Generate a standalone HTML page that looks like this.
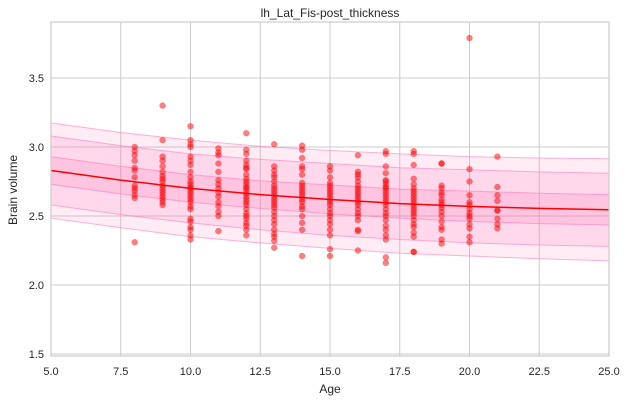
<!DOCTYPE html>
<html><head><meta charset="utf-8"><style>
body{margin:0;background:#fff;font-family:"Liberation Sans","DejaVu Sans",sans-serif}
svg text{font-family:"Liberation Sans","DejaVu Sans",sans-serif;fill:#262626}
</style></head><body>
<svg id="chart" width="628" height="402" xmlns="http://www.w3.org/2000/svg">
<rect x="51" y="22" width="558" height="334" fill="#fff"/>
<g id="grid"></g><g id="bands"></g><g id="pts"></g><g id="line"></g><g id="ticks"></g>
<rect x="51" y="22" width="558" height="334" fill="none" stroke="#ccc" stroke-width="1.2"/>
<text x="330" y="17" font-size="12" text-anchor="middle">lh_Lat_Fis-post_thickness</text>
<text x="330" y="393" font-size="12" text-anchor="middle">Age</text>
<text x="17" y="190" font-size="12" text-anchor="middle" transform="rotate(-90 17 190)">Brain volume</text>
</svg>
<script>
const xTicks=[5,7.5,10,12.5,15,17.5,20,22.5,25];
const xTickLabels=["5.0","7.5","10.0","12.5","15.0","17.5","20.0","22.5","25.0"];
const yTicks=[1.5,2.0,2.5,3.0,3.5];
const yTickLabels=["1.5","2.0","2.5","3.0","3.5"];
const curveAges=[5,7.5,10,12.5,15,17.5,20,22.5,25];
const curveMean=[2.83,2.76,2.70,2.655,2.62,2.59,2.57,2.555,2.545];
const innerWidth=[0.10,0.10,0.10,0.10,0.105,0.105,0.11,0.11,0.11];
const midWidth=[0.25,0.25,0.25,0.255,0.26,0.26,0.265,0.265,0.265];
const outerWidth=[0.345,0.345,0.35,0.35,0.355,0.36,0.36,0.365,0.37];
const ages=[8,9,10,11,12,13,14,15,16,17,18,19,20,21];
const values=[
[3.0,2.97,2.94,2.9,2.85,2.83,2.78,2.72,2.70,2.68,2.65,2.63,2.31],
[3.3,3.05,2.93,2.9,2.86,2.82,2.79,2.77,2.75,2.72,2.70,2.68,2.66,2.64,2.62,2.60,2.58],
[3.15,3.05,3.02,3.0,2.93,2.9,2.87,2.82,2.78,2.75,2.73,2.71,2.70,2.68,2.66,2.64,2.62,2.60,2.57,2.55,2.48,2.46,2.42,2.40,2.36,2.33],
[2.99,2.96,2.94,2.88,2.82,2.76,2.73,2.70,2.67,2.64,2.60,2.57,2.53,2.50,2.39],
[3.1,2.98,2.95,2.9,2.87,2.85,2.84,2.80,2.77,2.75,2.73,2.71,2.70,2.68,2.66,2.64,2.62,2.60,2.58,2.55,2.52,2.50,2.48,2.45,2.43,2.40,2.36],
[3.02,2.86,2.83,2.80,2.78,2.75,2.72,2.70,2.68,2.66,2.64,2.62,2.60,2.58,2.56,2.53,2.50,2.47,2.44,2.40,2.37,2.35,2.32,2.27],
[3.01,2.98,2.92,2.86,2.84,2.80,2.74,2.72,2.70,2.68,2.66,2.64,2.62,2.60,2.57,2.55,2.50,2.45,2.40,2.21],
[2.86,2.83,2.78,2.74,2.72,2.70,2.68,2.66,2.64,2.62,2.60,2.58,2.55,2.52,2.50,2.47,2.44,2.40,2.36,2.26,2.21],
[2.94,2.82,2.80,2.78,2.75,2.72,2.70,2.68,2.66,2.64,2.62,2.60,2.58,2.55,2.52,2.50,2.47,2.40,2.39,2.25],
[2.97,2.95,2.86,2.81,2.76,2.75,2.73,2.71,2.70,2.68,2.66,2.64,2.62,2.60,2.58,2.55,2.52,2.50,2.47,2.43,2.40,2.36,2.33,2.20,2.16],
[2.97,2.95,2.87,2.77,2.73,2.70,2.68,2.66,2.64,2.62,2.60,2.58,2.56,2.54,2.52,2.50,2.47,2.44,2.42,2.38,2.35,2.24,2.24],
[2.88,2.88,2.72,2.70,2.67,2.65,2.62,2.60,2.58,2.56,2.53,2.50,2.46,2.42,2.40,2.33,2.30],
[3.79,2.84,2.75,2.65,2.60,2.58,2.55,2.52,2.50,2.48,2.44,2.41,2.35,2.31],
[2.93,2.71,2.65,2.61,2.54,2.54,2.48,2.44,2.41]
];
const NS="http://www.w3.org/2000/svg";
const X=v=>51+(v-5)*558/20;
const Y=v=>216-(v-2.5)*138;
function mk(tag,attrs,parent){const e=document.createElementNS(NS,tag);for(const k in attrs)e.setAttribute(k,attrs[k]);document.getElementById(parent).appendChild(e);return e;}
xTicks.forEach((t,i)=>{
 const l=mk('line',{x1:X(t),x2:X(t),y1:22,y2:356,stroke:'#ccc','stroke-width':1},'grid');
 
 
 const tx=mk('text',{x:X(t),y:375,'font-size':11,'text-anchor':'middle'},'ticks');tx.textContent=xTickLabels[i];
 
 
});
yTicks.forEach((t,i)=>{
 const l=mk('line',{x1:51,x2:609,y1:Y(t),y2:Y(t),stroke:'#ccc','stroke-width':1},'grid');
 
 
 const tx=mk('text',{x:44,y:Y(t)+4,'font-size':11,'text-anchor':'end'},'ticks');tx.textContent=yTickLabels[i];
 
 
});
function band(w,fill,stroke,name){
 let up=curveAges.map((a,i)=>X(a)+','+Y(curveMean[i]+w[i]));
 let dn=curveAges.map((a,i)=>X(a)+','+Y(curveMean[i]-w[i])).reverse();
 const p=mk('polygon',{points:up.concat(dn).join(' '),fill:fill,stroke:stroke,'stroke-width':1},'bands');
 
 
}
band(outerWidth,'rgba(255,105,180,0.13)','rgba(255,105,180,0.5)','outer-band');
band(midWidth,'rgba(255,105,180,0.15)','rgba(255,105,180,0.5)','middle-band');
band(innerWidth,'rgba(255,105,180,0.18)','rgba(255,105,180,0.5)','inner-band');
ages.forEach((a,i)=>values[i].forEach(v=>{
 const c=mk('circle',{cx:X(a),cy:Y(v),r:3,fill:'rgba(255,0,0,0.5)',stroke:'rgba(255,0,0,0.3)','stroke-width':0.5},'pts');
 
 
}));
const ln=mk('polyline',{points:curveAges.map((a,i)=>X(a)+','+Y(curveMean[i])).join(' '),fill:'none',stroke:'#f00','stroke-width':1.5},'line');


</script>
</body></html>
